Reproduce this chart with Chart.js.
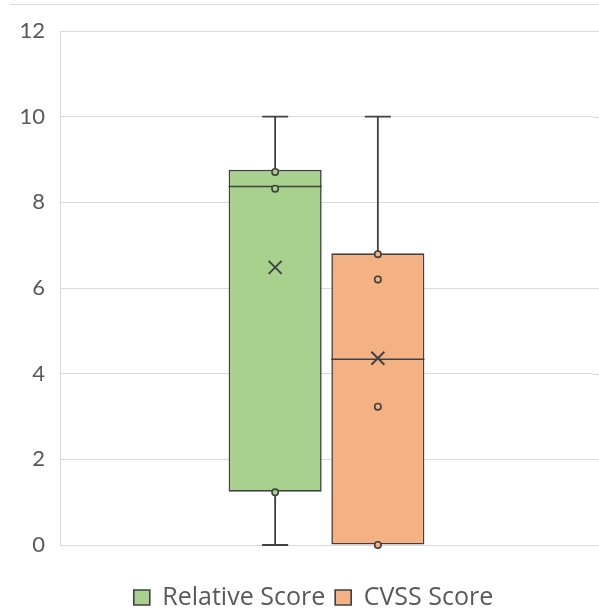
<!DOCTYPE html>
<html>
<head>
<meta charset="utf-8">
<script src="https://cdn.jsdelivr.net/npm/chart.js@4"></script>
<style>
  html, body { margin: 0; padding: 0; background: #fff; }
  #wrap { position: relative; width: 599px; height: 613px; }
  #rule { position: absolute; left: 10px; right: 0; top: 4px; height: 1px; background: #dcdcdc; }
  canvas { position: absolute; left: 0; top: 0; }
</style>
</head>
<body>
<div id="wrap">
  <div id="rule"></div>
  <canvas id="chart" width="599" height="613"></canvas>
</div>
<script>
// Box-and-whisker statistics for each series
const seriesNames = ['Relative Score', 'CVSS Score'];
const fillColors = ['#A9D18E', '#F4B183'];
const mins = [0, 0];
const q1s = [1.245, 0];
const medians = [8.37, 4.335];
const q3s = [8.76, 6.81];
const maxs = [10, 10];
const means = [6.48, 4.36];
const innerPoints = [
  [8.71, 8.32, 1.23],
  [6.79, 6.2, 3.23, 0]
];
const categories = [''];
const yMin = 0, yMax = 12, yStep = 2;

const TICK_FONT = 'Lato, "Open Sans", sans-serif';
const LEGEND_FONT = '"Open Sans", Lato, sans-serif';
const INK = '#404040';
const TEXT = '#595959';
const GRID = '#D9D9D9';

// Carry the horizontal gridlines on to the right edge of the canvas
const gridExtendPlugin = {
  id: 'gridExtend',
  beforeDatasetsDraw(chart) {
    const ctx = chart.ctx;
    const yScale = chart.scales.y;
    const x0 = chart.chartArea.right;
    ctx.save();
    ctx.strokeStyle = GRID;
    ctx.lineWidth = 1;
    yScale.ticks.forEach(t => {
      const y = Math.round(yScale.getPixelForValue(t.value)) + 0.5;
      ctx.beginPath();
      ctx.moveTo(x0, y);
      ctx.lineTo(chart.width, y);
      ctx.stroke();
    });
    ctx.restore();
  }
};

// Nudge the legend row a little to the right of the canvas centre
const legendShiftPlugin = {
  id: 'legendShift',
  afterLayout(chart) {
    const lg = chart.legend;
    if (lg) { lg.left += 17; lg.right += 17; }
  }
};

// Whiskers, caps, median lines, mean markers and inner points
const boxWhiskerPlugin = {
  id: 'boxWhisker',
  afterDatasetsDraw(chart) {
    const ctx = chart.ctx;
    const yScale = chart.scales.y;
    const py = v => yScale.getPixelForValue(v);
    chart.data.datasets.forEach((ds, i) => {
      const bar = chart.getDatasetMeta(i).data[0];
      if (!bar) return;
      const cx = bar.x;
      const half = bar.width / 2;
      const capHalf = 13;
      ctx.save();
      ctx.strokeStyle = INK;
      ctx.lineWidth = 1.8;
      ctx.lineCap = 'butt';

      // upper whisker
      if (maxs[i] > q3s[i]) {
        ctx.beginPath();
        ctx.moveTo(cx, py(q3s[i]));
        ctx.lineTo(cx, py(maxs[i]));
        ctx.moveTo(cx - capHalf, py(maxs[i]));
        ctx.lineTo(cx + capHalf, py(maxs[i]));
        ctx.stroke();
      }
      // lower whisker
      if (mins[i] < q1s[i]) {
        ctx.beginPath();
        ctx.moveTo(cx, py(q1s[i]));
        ctx.lineTo(cx, py(mins[i]));
        ctx.moveTo(cx - capHalf, py(mins[i]));
        ctx.lineTo(cx + capHalf, py(mins[i]));
        ctx.stroke();
      }
      // median
      ctx.lineWidth = 1.6;
      ctx.beginPath();
      ctx.moveTo(cx - half, py(medians[i]));
      ctx.lineTo(cx + half, py(medians[i]));
      ctx.stroke();

      // mean marker (x)
      const my = py(means[i]);
      const m = 6.5;
      ctx.lineWidth = 1.9;
      ctx.beginPath();
      ctx.moveTo(cx - m, my - m);
      ctx.lineTo(cx + m, my + m);
      ctx.moveTo(cx + m, my - m);
      ctx.lineTo(cx - m, my + m);
      ctx.stroke();

      // inner points
      ctx.lineWidth = 1.6;
      ctx.fillStyle = fillColors[i];
      innerPoints[i].forEach(v => {
        ctx.beginPath();
        ctx.arc(cx, py(v), 3.2, 0, Math.PI * 2);
        ctx.fill();
        ctx.stroke();
      });
      ctx.restore();
    });
  }
};

const datasets = seriesNames.map((name, i) => ({
  label: name,
  data: [[q1s[i], q3s[i]]],
  backgroundColor: fillColors[i],
  borderColor: INK,
  borderWidth: 1.6,
  borderSkipped: false,
  categoryPercentage: 0.3854,
  barPercentage: 0.906
}));

new Chart(document.getElementById('chart'), {
  type: 'bar',
  data: { labels: categories, datasets },
  options: {
    responsive: false,
    animation: false,
    layout: { padding: { top: 31, right: 6, bottom: -7, left: 0 } },
    plugins: {
      tooltip: { enabled: false },
      legend: {
        position: 'bottom',
        labels: {
          font: { family: LEGEND_FONT, size: 25 },
          color: TEXT,
          boxWidth: 16,
          boxHeight: 15,
          padding: 10
        }
      }
    },
    scales: {
      x: {
        grid: { display: false },
        border: { display: false },
        ticks: { display: false },
        afterFit(scale) { scale.height = 30; }
      },
      y: {
        min: yMin,
        max: yMax,
        ticks: {
          stepSize: yStep,
          font: { family: TICK_FONT, size: 22 },
          color: TEXT,
          padding: 15
        },
        grid: { color: GRID, lineWidth: 1, drawTicks: false },
        border: { color: GRID },
        afterFit(scale) { scale.width = 60; }
      }
    }
  },
  plugins: [gridExtendPlugin, legendShiftPlugin, boxWhiskerPlugin]
});
</script>
</body>
</html>
